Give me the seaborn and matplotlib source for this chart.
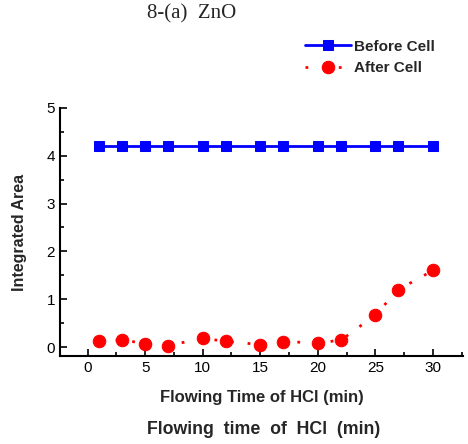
import numpy as np
import pandas as pd
import matplotlib
matplotlib.use("Agg")
import matplotlib.pyplot as plt
import seaborn as sns
from matplotlib.ticker import MultipleLocator

# data
flow_time = [1, 3, 5, 7, 10, 12, 15, 17, 20, 22, 25, 27, 30]
before_cell = [4.2] * 13
after_cell = [0.12, 0.15, 0.07, 0.03, 0.18, 0.12, 0.05, 0.11, 0.09, 0.14, 0.67, 1.2, 1.6]

sns.set_style("ticks")
plt.rcParams["font.family"] = ["Liberation Sans", "DejaVu Sans"]

fig = plt.figure(figsize=(4.68, 4.44), dpi=100)
ax = fig.add_axes([0.128, 0.198, 0.861, 0.559])

sns.lineplot(x=flow_time, y=before_cell, ax=ax, color="#0000ff", marker="s",
             markersize=6.5, markeredgecolor="#0000ff", linewidth=2, label="Before Cell")
sns.lineplot(x=flow_time, y=after_cell, ax=ax, color="#ff0000", marker="o",
             markersize=9, markeredgecolor="#ff0000", linewidth=2,
             linestyle=(0, (1, 5)), label="After Cell")

ax.set_xlim(-2.4, 32.6)
ax.set_ylim(-0.19, 5)
ax.xaxis.set_major_locator(MultipleLocator(5))
ax.xaxis.set_minor_locator(MultipleLocator(2.5))
ax.yaxis.set_major_locator(MultipleLocator(1))
ax.yaxis.set_minor_locator(MultipleLocator(0.5))
ax.tick_params(which="both", direction="in", width=1.2, colors="black", labelsize=11)
ax.tick_params(which="major", length=5)
ax.tick_params(which="minor", length=3)
sns.despine(ax=ax)
for s in ["left", "bottom"]:
    ax.spines[s].set_linewidth(1.5)
    ax.spines[s].set_color("black")

ax.set_xlabel("Flowing Time of HCl (min)", fontsize=12, fontweight="bold", labelpad=11)
ax.set_ylabel("Integrated Area", fontsize=11.5, fontweight="bold", labelpad=14)

leg = ax.legend(loc="upper right", bbox_to_anchor=(0.965, 1.33), frameon=False,
                fontsize=11, handlelength=3.0, labelspacing=0.5, handletextpad=0.2)
for t in leg.get_texts():
    t.set_fontweight("bold")

fig.text(0.41, 0.968, "8-(a)  ZnO", fontsize=15, family=["Liberation Serif", "DejaVu Serif"],
         ha="center", va="center")
fig.text(0.564, 0.032, "Flowing  time  of  HCl  (min)", fontsize=12.8, fontweight="bold",
         ha="center", va="center")

fig.savefig("out.png", dpi=100)
